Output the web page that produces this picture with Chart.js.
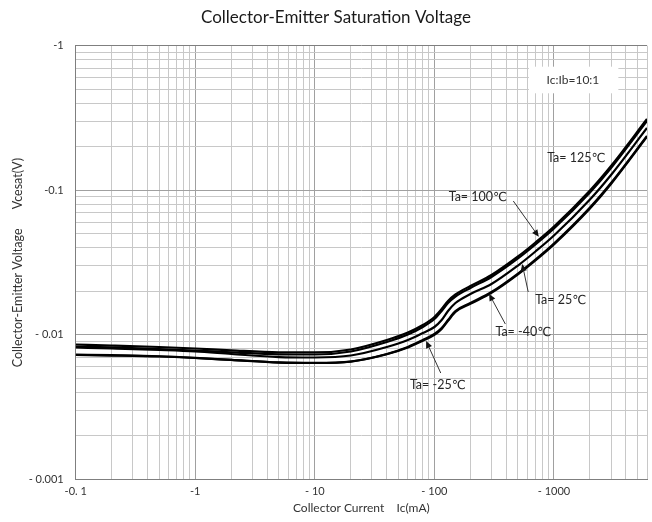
<!DOCTYPE html>
<html><head><meta charset="utf-8">
<script src="https://cdn.jsdelivr.net/npm/chart.js@4"></script>
<style>html,body{margin:0;padding:0;background:#fff}canvas{display:block}</style>
</head><body>
<canvas id="c" width="652" height="522"></canvas>
<script>
const chartTitle = 'Collector-Emitter Saturation Voltage';
const xAxisTitle = 'Collector Current    Ic(mA)';
const yAxisTitle = 'Collector-Emitter Voltage      Vcesat(V)';

// Collector current (mA)
const xCurrent = [0.1, 0.2, 0.5, 1, 2, 5, 10, 20, 40, 60, 80, 100, 115, 130, 150, 200, 300, 500, 700, 1000, 2000, 3000, 6000];
// |Vcesat| (V) per ambient temperature
const ta125 = [0.00858, 0.00845, 0.00825, 0.00805, 0.00782, 0.00758, 0.00756, 0.00793, 0.00922, 0.01039, 0.01171, 0.01330, 0.01511, 0.01716, 0.01903, 0.02179, 0.02595, 0.03485, 0.04355, 0.05620, 0.09968, 0.1472, 0.3112];
const ta100 = [0.00831, 0.00819, 0.00799, 0.00780, 0.00758, 0.00734, 0.00732, 0.00768, 0.00893, 0.01006, 0.01134, 0.01288, 0.01464, 0.01662, 0.01843, 0.02111, 0.02515, 0.03377, 0.04220, 0.05446, 0.09659, 0.1426, 0.3015];
const ta25 = [0.00818, 0.00805, 0.00786, 0.00768, 0.00738, 0.00703, 0.00698, 0.00720, 0.00825, 0.00922, 0.01031, 0.01134, 0.01268, 0.01463, 0.01662, 0.01918, 0.02249, 0.03019, 0.03774, 0.04868, 0.08636, 0.1276, 0.2697];
const taM25 = [0.00726, 0.00720, 0.00709, 0.00692, 0.00671, 0.00644, 0.00639, 0.00655, 0.00738, 0.00825, 0.00922, 0.01014, 0.01116, 0.01268, 0.01463, 0.01662, 0.01981, 0.02658, 0.03321, 0.04287, 0.07604, 0.1123, 0.2374];
const taM40 = [0.00730, 0.00724, 0.00712, 0.00694, 0.00672, 0.00645, 0.00640, 0.00654, 0.00735, 0.00818, 0.00912, 0.01000, 0.01100, 0.01250, 0.01442, 0.01640, 0.01952, 0.02620, 0.03272, 0.04225, 0.07490, 0.1106, 0.2345];
const seriesNames = ['Ta=125℃', 'Ta=100℃', 'Ta=25℃', 'Ta=-25℃', 'Ta=-40℃'];
const seriesValues = [ta125, ta100, ta25, taM25, taM40];

const xRange = [0.1, 6000];
const yRange = [0.001, 1];
const xMajorTicks = [0.1, 1, 10, 100, 1000];
const xMajorLabels = ['-0. 1', '-1', '- 10', '- 100', '- 1000'];
const yMajorTicks = [0.001, 0.01, 0.1, 1];
const yMajorLabels = ['- 0.001', '- 0.01', '-0.1', '-1'];

const conditionText = 'Ic:Ib=10:1';
const conditionBox = {x: [617, 3457], y: [0.716, 0.4687], textAt: [1442, 0.579]};
const annotations = [
  {text: 'Ta= 125℃', at: [877, 0.1672]},
  {text: 'Ta= 100℃', at: [131.7, 0.0899], from: [457, 0.0843], to: [747, 0.0477]},
  {text: 'Ta= 25℃', at: [696, 0.01743], from: [609, 0.01981], to: [543, 0.03092]},
  {text: 'Ta= -40℃', at: [324, 0.01047], from: [392, 0.01189], to: [287, 0.0192]},
  {text: 'Ta= -25℃', at: [62.4, 0.0045], from: [113, 0.00545], to: [85.3, 0.00907]}
];

const FONT = 'Lato, "Open Sans", "DejaVu Sans", sans-serif';

function logGridTicks(min, max) {
  const out = [];
  for (let e = Math.floor(Math.log10(min)); e <= Math.ceil(Math.log10(max)); e++) {
    for (let m = 1; m < 10; m++) {
      const v = parseFloat((m * Math.pow(10, e)).toPrecision(6));
      if (v >= min * 0.9999 && v <= max * 1.0001) out.push({value: v});
    }
  }
  return out;
}
function majorIndex(v, majors) {
  for (let i = 0; i < majors.length; i++) {
    if (Math.abs(Math.log10(v) - Math.log10(majors[i])) < 1e-6) return i;
  }
  return -1;
}

const decorPlugin = {
  id: 'decor',
  beforeDatasetsDraw(chart) {
    const {ctx, scales: {x, y}} = chart;
    ctx.save();
    const x0 = x.getPixelForValue(conditionBox.x[0]), x1 = x.getPixelForValue(conditionBox.x[1]);
    const y0 = y.getPixelForValue(conditionBox.y[0]), y1 = y.getPixelForValue(conditionBox.y[1]);
    ctx.fillStyle = '#ffffff';
    ctx.fillRect(x0, y0, x1 - x0, y1 - y0);
    ctx.fillStyle = '#333333';
    ctx.font = '12px ' + FONT;
    ctx.textAlign = 'center';
    ctx.textBaseline = 'middle';
    ctx.fillText(conditionText, x.getPixelForValue(conditionBox.textAt[0]), y.getPixelForValue(conditionBox.textAt[1]));
    ctx.restore();
  },
  afterDatasetsDraw(chart) {
    const {ctx, scales: {x, y}} = chart;
    ctx.save();
    ctx.font = '12.5px ' + FONT;
    ctx.textAlign = 'left';
    ctx.textBaseline = 'middle';
    annotations.forEach(a => {
      ctx.fillStyle = '#262626';
      ctx.fillText(a.text, x.getPixelForValue(a.at[0]), y.getPixelForValue(a.at[1]));
      if (a.from) {
        const fx = x.getPixelForValue(a.from[0]), fy = y.getPixelForValue(a.from[1]);
        const tx = x.getPixelForValue(a.to[0]), ty = y.getPixelForValue(a.to[1]);
        const ang = Math.atan2(ty - fy, tx - fx);
        const hl = 7, hw = 3.2;
        ctx.strokeStyle = '#333333';
        ctx.lineWidth = 1;
        ctx.beginPath();
        ctx.moveTo(fx, fy);
        ctx.lineTo(tx - Math.cos(ang) * hl * 0.8, ty - Math.sin(ang) * hl * 0.8);
        ctx.stroke();
        ctx.fillStyle = '#111111';
        ctx.beginPath();
        ctx.moveTo(tx, ty);
        ctx.lineTo(tx - Math.cos(ang) * hl - Math.sin(ang) * hw, ty - Math.sin(ang) * hl + Math.cos(ang) * hw);
        ctx.lineTo(tx - Math.cos(ang) * hl + Math.sin(ang) * hw, ty - Math.sin(ang) * hl - Math.cos(ang) * hw);
        ctx.closePath();
        ctx.fill();
      }
    });
    ctx.restore();
  },
  afterDraw(chart) {
    const {ctx} = chart;
    ctx.save();
    ctx.fillStyle = '#1a1a1a';
    ctx.font = '17px ' + FONT;
    ctx.textAlign = 'center';
    ctx.textBaseline = 'middle';
    ctx.fillText(chartTitle, 336, 18);
    ctx.restore();
  }
};

const datasets = seriesValues.map((vals, i) => ({
  label: seriesNames[i],
  data: xCurrent.map((xv, j) => ({x: xv, y: vals[j]})),
  borderColor: '#000000',
  backgroundColor: '#000000',
  borderWidth: 2.2,
  pointRadius: 0,
  fill: false,
  cubicInterpolationMode: 'monotone'
}));

new Chart(document.getElementById('c'), {
  type: 'line',
  data: {datasets},
  plugins: [decorPlugin],
  options: {
    responsive: false,
    animation: false,
    devicePixelRatio: 1,
    layout: {padding: {top: 45.7, left: 0, right: 0, bottom: 0}},
    plugins: {legend: {display: false}, title: {display: false}, tooltip: {enabled: false}},
    scales: {
      x: {
        type: 'logarithmic',
        min: xRange[0], max: xRange[1],
        afterBuildTicks: s => { s.ticks = logGridTicks(xRange[0], xRange[1]); },
        afterFit: s => { s.height = 42.5; },
        ticks: {
          autoSkip: false, maxRotation: 0, padding: 5,
          color: '#333333', font: {family: FONT, size: 11},
          callback: v => { const i = majorIndex(v, xMajorTicks); return i >= 0 ? xMajorLabels[i] : ''; }
        },
        grid: {
          drawTicks: false, lineWidth: 1,
          color: c => (c.tick && majorIndex(c.tick.value, xMajorTicks) >= 0) ? '#a0a0a0' : '#c8c8c8'
        },
        border: {display: true, color: '#7f7f7f', width: 1},
        title: {display: true, text: xAxisTitle, color: '#333333', font: {family: FONT, size: 12}, padding: {top: 0, bottom: 6.8}}
      },
      y: {
        type: 'logarithmic',
        min: yRange[0], max: yRange[1],
        afterBuildTicks: s => { s.ticks = logGridTicks(yRange[0], yRange[1]); },
        afterFit: s => { s.width = 75.7; },
        ticks: {
          autoSkip: false, padding: 12,
          color: '#333333', font: {family: FONT, size: 11},
          callback: v => { const i = majorIndex(v, yMajorTicks); return i >= 0 ? yMajorLabels[i] : ''; }
        },
        grid: {
          drawTicks: false, lineWidth: 1,
          color: c => {
            if (!c.tick) return '#c8c8c8';
            if (Math.abs(c.tick.value - yRange[1]) < 1e-9) return '#7f7f7f';
            return majorIndex(c.tick.value, yMajorTicks) >= 0 ? '#a0a0a0' : '#c8c8c8';
          }
        },
        border: {display: true, color: '#7f7f7f', width: 1},
        title: {display: true, text: yAxisTitle, color: '#333333', font: {family: FONT, size: 12.5}, padding: {top: 10.6, bottom: 0}}
      }
    }
  }
});
</script>
</body></html>
